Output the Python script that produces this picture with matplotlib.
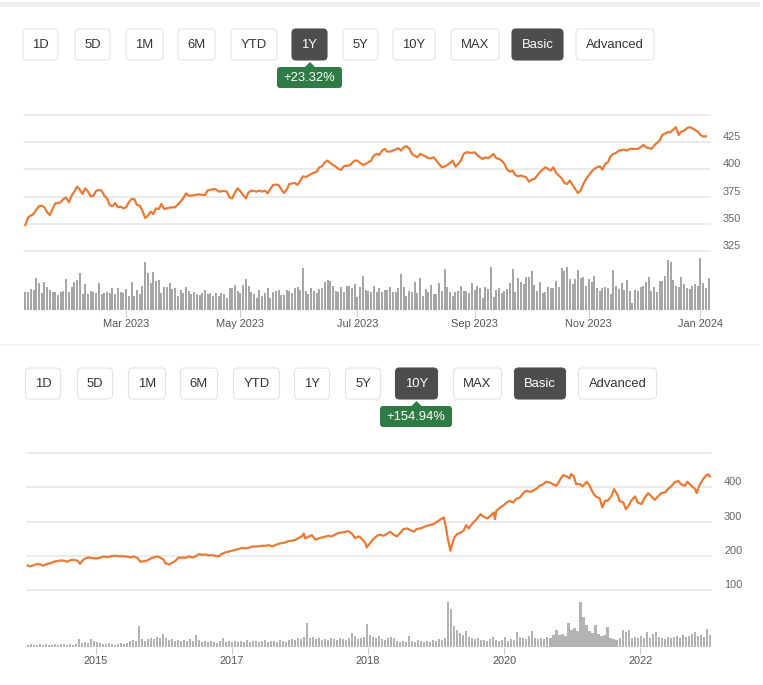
import matplotlib
matplotlib.use("Agg")
import matplotlib.pyplot as plt
from matplotlib.patches import FancyBboxPatch, Polygon, Rectangle
import numpy as np
import pandas as pd

plt.rcParams['font.family'] = ['Liberation Sans', 'DejaVu Sans']

W, H = 763, 685
ORANGE = "#e97a34"
GRID = "#e6e6e6"

range_buttons = ["1D", "5D", "1M", "6M", "YTD", "1Y", "5Y", "10Y", "MAX"]
mode_buttons = ["Basic", "Advanced"]

# ---- 1Y panel (x = trading day number from 2023-01-05) ----
change_1y = "+23.32%"
days_1y = [0, 1, 2, 3, 4, 5, 6, 7, 8, 9, 10, 11, 12, 13, 14, 15, 16, 17, 18, 19, 20, 21, 22, 23, 24, 25,
           26, 27, 28, 29, 30, 31, 32, 33, 34, 35, 36, 37, 38, 39, 40, 41, 42, 43, 44, 45, 46, 47, 48, 49,
           50, 51, 53, 54, 55, 57, 58, 59, 60, 61, 63, 64, 65, 66, 67, 68, 69, 70, 71, 73, 74, 75, 76, 77,
           78, 79, 80, 81, 82, 83, 85, 86, 87, 88, 89, 90, 91, 92, 93, 94, 95, 96, 97, 99, 100, 101, 102,
           103, 104, 105, 107, 108, 109, 110, 111, 112, 113, 114, 115, 116, 117, 118, 119, 121, 122, 123,
           124, 125, 127, 128, 129, 130, 131, 132, 133, 134, 136, 137, 138, 139, 140, 141, 142, 143, 144,
           145, 147, 148, 149, 150, 151, 152, 153, 154, 155, 156, 157, 158, 159, 160, 161, 162, 164, 165,
           166, 167, 168, 169, 170, 171, 172, 173, 174, 175, 176, 177, 178, 179, 180, 181, 182, 183, 184,
           185, 186, 187, 188, 189, 190, 191, 193, 194, 195, 197, 198, 199, 200, 201, 202, 203, 204, 205,
           206, 208, 209, 210, 211, 212, 213, 214, 215, 216, 217, 218, 220, 221, 222, 223, 225, 226, 227,
           228, 230, 231, 232, 233, 234, 236, 237, 238, 239, 240, 241, 242, 243, 244, 245, 247, 248, 249, 250]
price_1y = [349.0, 356.1, 357.6, 359.1, 363.1, 366.2, 366.8, 365.3, 360.7, 358.2, 363.7, 368.9, 369.2,
            369.9, 372.9, 374.1, 369.9, 376.0, 379.7, 384.3, 381.5, 377.5, 382.7, 379.7, 375.4, 376.0,
            380.3, 381.2, 380.6, 376.0, 373.5, 367.4, 366.2, 369.2, 365.3, 365.9, 364.3, 365.3, 369.9,
            372.9, 372.9, 367.4, 366.8, 362.2, 355.5, 357.6, 361.3, 359.1, 364.3, 363.7, 368.3, 363.7,
            365.0, 365.3, 365.3, 370.5, 373.5, 378.1, 376.0, 376.0, 376.9, 377.2, 376.6, 376.6, 380.9,
            381.2, 382.1, 381.8, 379.7, 380.3, 379.7, 374.4, 373.5, 379.0, 382.7, 380.0, 376.6, 373.5,
            379.0, 380.6, 379.7, 380.6, 379.7, 380.6, 378.1, 382.1, 385.8, 386.1, 385.8, 382.1, 378.4,
            381.5, 386.7, 387.6, 385.8, 389.8, 393.7, 393.1, 394.4, 395.9, 398.0, 402.0, 402.9, 406.6,
            408.1, 406.0, 404.2, 402.6, 400.5, 399.6, 402.9, 403.6, 403.6, 408.1, 408.1, 406.0, 404.2,
            405.1, 408.1, 412.7, 414.3, 413.4, 417.3, 418.9, 416.4, 416.4, 418.3, 419.5, 417.3, 420.4,
            421.3, 419.5, 414.3, 412.7, 411.2, 414.3, 412.1, 410.3, 410.3, 411.2, 408.1, 405.1, 402.0,
            402.6, 404.2, 406.0, 408.1, 402.6, 405.1, 408.1, 414.3, 415.8, 415.2, 415.8, 413.4, 411.2,
            409.7, 411.2, 410.3, 412.1, 414.3, 410.3, 409.7, 408.1, 405.1, 399.9, 398.0, 399.0, 395.0,
            393.7, 394.4, 393.7, 392.8, 388.8, 390.7, 391.3, 394.4, 397.4, 399.9, 402.0, 399.0, 402.0,
            396.8, 391.9, 387.6, 386.7, 389.8, 385.8, 382.1, 378.4, 380.6, 386.7, 391.3, 398.0, 400.5,
            402.0, 402.9, 399.9, 405.1, 406.6, 412.1, 414.3, 415.2, 417.3, 418.3, 417.3, 418.9, 418.9,
            418.9, 420.4, 422.5, 420.4, 418.9, 421.9, 424.4, 426.5, 431.7, 434.2, 434.2, 436.6, 438.8,
            431.7, 434.8, 435.7, 437.9, 438.8, 437.9, 434.8, 431.7, 430.2, 430.5]
vol_1y = [18, 18, 21, 20, 32, 27, 17, 28, 23, 20, 18, 18, 15, 18, 19, 31, 18, 23, 28, 30, 37, 16, 26, 16,
          19, 18, 17, 27, 16, 17, 18, 17, 22, 16, 22, 18, 17, 21, 14, 28, 14, 20, 16, 24, 48, 37, 27, 38,
          29, 30, 17, 23, 23, 27, 21, 22, 14, 20, 17, 23, 19, 16, 18,
          16, 15, 17, 20, 16, 17, 14, 17, 14, 17, 16, 12, 22, 22, 25, 19, 17, 25, 31, 24, 18, 16, 12, 20,
          14, 17, 22, 12, 18, 19, 20, 15, 15, 20, 19, 17, 22, 23, 20, 42, 19, 16, 22, 19, 17, 21, 22, 28,
          30, 29, 24, 19, 18, 23, 18, 24, 24, 22, 26, 13, 23, 34,
          20, 19, 18, 24, 18, 22, 18, 20, 20, 23, 18, 18, 22, 36, 23, 14, 19, 18, 28, 17, 32, 14, 21, 18,
          25, 16, 16, 27, 19, 41, 23, 18, 14, 18, 19, 24, 19, 19, 17, 27, 20, 24, 22, 12, 23, 21, 43, 13,
          20, 22, 17, 19, 21, 27, 41, 18, 32, 28, 26, 33, 33, 39, 25,
          19, 28, 17, 18, 23, 22, 22, 29, 23, 42, 39, 43, 31, 26, 31, 40, 32, 33, 24, 31, 28, 34, 22, 19,
          22, 23, 22, 16, 40, 24, 21, 27, 20, 30, 19, 7, 20, 19, 23, 24, 28, 33, 19, 23, 18, 29, 29, 34,
          50, 48, 30, 24, 23, 33, 26, 22, 21, 24, 26, 24, 52, 27, 22, 32]
holidays = ["2023-01-16", "2023-02-20", "2023-04-07", "2023-05-29", "2023-06-19", "2023-07-04",
            "2023-09-04", "2023-11-23", "2023-12-25", "2024-01-01"]
month_starts_1y = ["2023-03-01", "2023-05-01", "2023-07-01", "2023-09-01", "2023-11-01", "2024-01-01"]
month_labels_1y = ["Mar 2023", "May 2023", "Jul 2023", "Sep 2023", "Nov 2023", "Jan 2024"]
grid_1y = [325, 350, 375, 400, 425, 450]

# ---- 10Y panel (x = trading week number) ----
change_10y = "+154.94%"
weeks_10y = [0, 2, 5, 7, 10, 12, 15, 18, 20, 23, 25, 28, 30, 33, 35, 38, 40, 43, 46, 48, 51, 53, 56, 58, 61,
             63, 66, 68, 71, 73, 76, 79, 81, 84, 86, 89, 91, 94, 96, 99, 101, 104, 105, 108, 110, 113, 115,
             118, 121, 123, 126, 128, 131, 133, 136, 138, 141, 143, 146, 148, 151, 154, 156, 159, 161, 164,
             166, 169, 171, 174, 176, 179, 182, 184, 187, 189, 192, 194, 197, 199, 202, 204, 207, 210, 211,
             212, 215, 217, 220, 222, 225, 227, 230, 232, 235, 237, 240, 243, 245, 248, 250, 253, 255, 258,
             259, 262, 264, 267, 269, 272, 274, 277, 279, 282, 285, 287, 290, 292, 295, 297, 300, 302, 305,
             307, 310, 312, 315, 318, 319, 320, 321, 323, 324, 326, 328, 330, 333, 335, 337, 338, 340, 343,
             346, 348, 351, 353, 356, 357, 358, 361, 363, 366, 368, 371, 373, 376, 379, 381, 384, 386, 389,
             391, 394, 396, 399, 401, 404, 407, 409, 412, 414, 415, 417, 419, 422, 424, 427, 429, 432, 434,
             437, 439, 441, 443, 446, 448, 451, 452, 455, 457, 459, 461, 464, 466, 469, 471, 474, 476, 479,
             482, 484, 487, 489, 492, 494, 497, 499, 502, 504, 507, 510, 511, 513, 516, 518, 520, 521]
price_10y = [172.0, 169.0, 172.9, 175.8, 174.9, 171.0, 176.8, 178.8, 182.7, 184.6, 186.5, 185.6, 182.7,
             187.5, 188.5, 185.6, 176.8, 190.4, 195.3, 194.3, 192.4, 192.4, 195.3, 198.2, 196.3, 198.2,
             200.2, 200.2, 198.2, 199.2, 197.3, 195.3, 198.2, 193.4, 182.7, 184.6, 185.6, 192.4, 195.3,
             198.2, 195.3, 188.5, 178.8, 174.9, 178.8, 185.6, 194.3, 195.3, 194.3, 198.2, 195.3, 198.2,
             205.1, 203.1, 204.1, 201.2, 202.1, 200.2, 198.2, 205.1, 210.0, 212.9, 214.8, 217.7, 219.7,
             223.6, 221.6, 223.6, 226.5, 227.5, 227.5, 229.4, 229.4, 231.4, 227.5, 231.4, 235.3, 237.2,
             239.2, 243.1, 244.1, 246.0, 251.9, 258.7, 265.5, 250.9, 256.7, 260.6, 247.0, 250.9, 253.8,
             255.8, 258.7, 256.7, 262.6, 266.5, 268.4, 270.4, 272.3, 263.5, 251.9, 256.7, 250.9, 237.2,
             224.6, 239.2, 248.9, 258.7, 261.6, 258.7, 263.5, 270.4, 263.5, 256.7, 268.4, 278.2, 280.1,
             276.2, 270.4, 278.2, 280.1, 283.0, 287.9, 289.9, 292.8, 297.7, 305.5, 312.3, 292.8, 273.3,
             248.9, 214.8, 231.4, 253.8, 263.5, 266.5, 273.3, 289.9, 280.1, 286.0, 295.7, 307.4, 322.0,
             315.2, 309.4, 315.2, 326.9, 307.4, 331.8, 341.5, 346.4, 356.1, 361.0, 356.1, 365.9, 370.8,
             385.4, 390.3, 387.3, 390.3, 397.1, 404.9, 409.7, 416.6, 414.6, 409.7, 404.9, 424.4, 436.1,
             432.2, 426.3, 439.0, 434.1, 409.7, 409.7, 402.9, 416.6, 406.8, 383.4, 373.7, 367.8, 341.5,
             361.0, 361.0, 375.6, 395.1, 375.6, 361.0, 356.1, 336.6, 346.4, 361.0, 373.7, 356.1, 351.3,
             367.8, 383.4, 375.6, 363.9, 375.6, 383.4, 385.4, 395.1, 404.9, 414.6, 419.5, 409.7, 404.9,
             416.6, 404.9, 395.1, 383.4, 404.9, 424.4, 434.1, 439.0, 432.2]
vol_10y = [2, 3, 2, 2, 3, 2, 3, 2, 2, 3, 2, 3, 3, 2, 3, 2, 3,
           8, 4, 5, 4, 8, 6, 5, 4,
           3, 3, 4, 3, 2, 3, 4, 3, 4,
           6, 7, 6, 21, 8, 6, 8, 9, 8, 10, 9, 13, 9, 7, 8, 6, 7, 6, 7, 6, 8, 6, 12, 7,
           5, 6, 5, 6, 5, 4, 6,
           9, 5, 6, 5, 6, 5, 6, 5, 7, 5, 6, 6, 5, 6, 7, 5, 6, 6, 5, 7, 6, 5, 7, 8, 7, 9, 8, 10, 24, 9,
           10, 8, 9, 7, 8, 7, 9, 8, 7, 9, 8, 7, 9, 14, 11, 8, 9, 10, 23, 12, 10, 9, 11,
           8, 7, 9, 10, 9, 6, 5, 6, 5, 11, 6, 5, 7, 6, 5, 6, 5, 7, 6, 8, 7, 9, 45, 38, 21, 17, 14, 12,
           16, 10, 9, 8, 9, 7, 7, 6, 8, 10, 7, 6, 7, 10, 6, 8, 7, 15, 10, 9, 8, 11, 16, 9, 8, 9, 8, 10,
           9, 12, 17, 12, 13, 11, 24, 17, 19, 16, 45, 30, 22, 16, 14, 22, 13, 11, 12, 20, 9, 8, 7, 9,
           17, 15, 17, 9, 10, 9, 11, 9, 15, 9, 13, 15, 10, 9, 8, 10, 9, 10, 11, 9, 12, 10, 11, 13, 15,
           11, 12, 10, 18, 12]
year_ticks_10y = [52, 156, 260, 364, 468]
year_labels_10y = ["2015", "2017", "2018", "2020", "2022"]
grid_10y = [100, 200, 300, 400, 500]
n_weeks_10y = 522

assert len(days_1y) == len(price_1y)
assert len(weeks_10y) == len(price_10y)

fig = plt.figure(figsize=(W / 100, H / 100), dpi=100)

# full-figure layer in pixel units for the page chrome (buttons, badges)
bg = fig.add_axes([0, 0, 1, 1])
bg.set_xlim(0, W)
bg.set_ylim(H, 0)
bg.axis("off")


def px_axes(x0, y0, x1, y1):
    ax = fig.add_axes([x0 / W, 1 - y1 / H, (x1 - x0) / W, (y1 - y0) / H])
    ax.patch.set_alpha(0)
    for s in ax.spines.values():
        s.set_visible(False)
    return ax


def draw_buttons(lefts, rights, top, active):
    for x0, x1, label in zip(lefts, rights, range_buttons + mode_buttons):
        dark = label in active
        bg.add_patch(FancyBboxPatch((x0, top), x1 - x0, 31,
                                    boxstyle="round,pad=0,rounding_size=4",
                                    fc="#4d4d4d" if dark else "white",
                                    ec="#4d4d4d" if dark else "#e3e3e3", lw=0.8))
        bg.text((x0 + x1) / 2, top + 15.5, label, ha="center", va="center",
                fontsize=9.4, color="white" if dark else "#333333")


def draw_badge(x0, x1, top, tip_x, text):
    bg.add_patch(Polygon([(tip_x - 6, top + 1), (tip_x, top - 5), (tip_x + 6, top + 1)],
                         closed=True, fc="#2e7b45", ec="none"))
    bg.add_patch(FancyBboxPatch((x0, top), x1 - x0, 21, boxstyle="round,pad=0,rounding_size=3",
                                fc="#2e7b45", ec="none"))
    bg.text((x0 + x1) / 2, top + 10.5, text, ha="center", va="center", fontsize=9.4, color="white")


# page separators
bg.add_patch(Rectangle((0, 1.5), 760, 5, fc="#efefef", ec="none"))
bg.add_patch(Rectangle((0, 343.5), 760, 2.5, fc="#f4f4f4", ec="none"))

lefts1 = [23, 75, 126, 178, 231, 292, 343, 393, 451, 512, 576]
rights1 = [58, 110, 163, 215, 277, 327, 378, 435, 499, 563, 654]
draw_buttons(lefts1, rights1, 29, ["1Y", "Basic"])
draw_badge(277, 342, 67, 310, change_1y)

lefts2 = [x + 2.5 for x in lefts1]
rights2 = [x + 2.5 for x in rights1]
draw_buttons(lefts2, rights2, 368, ["10Y", "Basic"])
draw_badge(380, 452, 406, 416.5, change_10y)


def style_price(ax, grid, ylim):
    ax.set_ylim(*ylim)
    for v in grid:
        ax.axhline(v, color=GRID, lw=1.1, zorder=0, clip_on=False)
    ax.yaxis.tick_right()
    ax.set_yticks(grid, [str(v) for v in grid[:-1]] + [""])
    ax.tick_params(axis="y", length=0, pad=9.4, labelsize=7.9, labelcolor="#666666")
    for lbl in ax.get_yticklabels():
        lbl.set_va("bottom")
    ax.set_xticks([])


def style_volume(ax, ticks, labels):
    ax.set_yticks([])
    ax.set_xticks(ticks, labels)
    ax.tick_params(axis="x", length=5, width=0.8, color="#cccccc", pad=1.5,
                   labelsize=7.9, labelcolor="#555555")


# ---- 1Y chart ----
trading_days = pd.bdate_range("2023-01-05", periods=len(vol_1y), freq="C", holidays=holidays)
tick_idx_1y = trading_days.searchsorted(pd.to_datetime(month_starts_1y))

ax1 = px_axes(24, 115, 710, 251.2)
ax1.plot(days_1y, price_1y, color=ORANGE, lw=1.6, solid_joinstyle="round", clip_on=False)
ax1.set_xlim(-0.5, len(vol_1y) - 0.5)
style_price(ax1, grid_1y, (325, 450))

vax1 = px_axes(24, 256, 710, 310)
vax1.bar(np.arange(len(vol_1y)), vol_1y, width=0.72, color="#a6a6a6", lw=0)
vax1.set_xlim(-0.5, len(vol_1y) - 0.5)
vax1.set_ylim(0, 54)
style_volume(vax1, tick_idx_1y, month_labels_1y)

# ---- 10Y chart ----
ax2 = px_axes(27, 453.3, 711, 590)
ax2.plot(weeks_10y, price_10y, color=ORANGE, lw=1.6, solid_joinstyle="round", clip_on=False)
ax2.set_xlim(-0.5, n_weeks_10y)
style_price(ax2, grid_10y, (100, 500))

vol_pos = np.linspace(0, n_weeks_10y - 1, len(vol_10y))
step = vol_pos[1] - vol_pos[0]
vax2 = px_axes(27, 598, 711, 647.3)
vax2.bar(vol_pos, vol_10y, width=step * 0.7, color="#b3b3b3", lw=0)
vax2.set_xlim(-0.5, n_weeks_10y)
vax2.set_ylim(0, 49.3)
style_volume(vax2, year_ticks_10y, year_labels_10y)

fig.savefig("out.png", dpi=100)
